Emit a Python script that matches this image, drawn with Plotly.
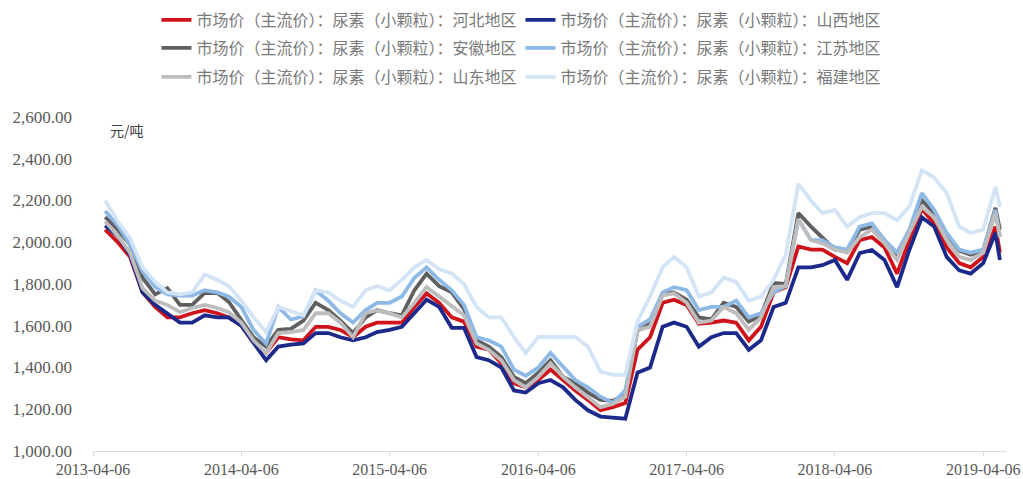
import plotly.graph_objects as go
import pandas as pd

dates = list(pd.date_range("2013-04-06", "2019-05-06", freq="MS").map(lambda d: d.replace(day=6)).strftime("%Y-%m-%d")) + ["2019-05-17"]

series_names = [
    "市场价（主流价）：尿素（小颗粒）：河北地区",
    "市场价（主流价）：尿素（小颗粒）：山西地区",
    "市场价（主流价）：尿素（小颗粒）：安徽地区",
    "市场价（主流价）：尿素（小颗粒）：江苏地区",
    "市场价（主流价）：尿素（小颗粒）：山东地区",
    "市场价（主流价）：尿素（小颗粒）：福建地区",
]

hebei = [2060, 2000, 1930, 1760, 1690, 1640, 1640, 1660, 1675, 1660, 1640, 1600, 1520, 1470, 1545, 1535, 1530, 1595, 1595, 1580,
         1545, 1595, 1615, 1615, 1615, 1690, 1755, 1710, 1640, 1620, 1500, 1485, 1420, 1325, 1305, 1340, 1390, 1340, 1290, 1245,
         1195, 1210, 1230, 1485, 1545, 1710, 1725, 1700, 1610, 1615, 1625, 1615, 1530, 1595, 1760, 1785, 1980, 1965, 1965, 1930,
         1900, 2010, 2025, 1975, 1850, 2010, 2160, 2090, 1975, 1900, 1880, 1930, 2075, 1950, 1915]
shanxi = [2080, 2030, 1940, 1760, 1700, 1660, 1615, 1615, 1650, 1640, 1640, 1600, 1515, 1435, 1500, 1510, 1515, 1565, 1565, 1545,
          1530, 1545, 1570, 1580, 1595, 1660, 1725, 1690, 1590, 1590, 1450, 1435, 1400, 1290, 1280, 1325, 1340, 1305, 1245, 1195,
          1165, 1160, 1155, 1375, 1400, 1595, 1615, 1595, 1500, 1545, 1565, 1565, 1485, 1530, 1690, 1710, 1880, 1880, 1890, 1915,
          1820, 1948, 1963, 1915, 1785, 1963, 2120, 2075, 1930, 1865, 1850, 1900, 2045, 1915, 1810]
anhui = [2120, 2060, 1990, 1830, 1750, 1780, 1700, 1700, 1757, 1757, 1715, 1630, 1545, 1500, 1580, 1585, 1625, 1710, 1675, 1625,
         1565, 1640, 1675, 1660, 1650, 1770, 1850, 1790, 1760, 1680, 1530, 1500, 1450, 1355, 1325, 1375, 1435, 1355, 1325, 1280,
         1245, 1240, 1270, 1575, 1610, 1755, 1760, 1725, 1640, 1630, 1710, 1690, 1620, 1650, 1805, 1800, 2140, 2075, 2025, 1965,
         1960, 2060, 2075, 2010, 1940, 2050, 2200, 2140, 2040, 1960, 1940, 1960, 2165, 2060, 2010]
jiangsu = [2150, 2080, 1990, 1860, 1785, 1750, 1745, 1745, 1770, 1760, 1740, 1690, 1580, 1515, 1690, 1630, 1645, 1770, 1720, 1660,
           1615, 1675, 1710, 1710, 1740, 1830, 1880, 1820, 1770, 1700, 1545, 1530, 1500, 1390, 1360, 1400, 1470, 1405, 1340, 1305,
           1260, 1230, 1290, 1595, 1630, 1760, 1785, 1770, 1675, 1690, 1690, 1720, 1640, 1660, 1760, 1790, 2110, 2010, 2010, 1975,
           1965, 2075, 2090, 2010, 1950, 2060, 2235, 2155, 2045, 1965, 1950, 1965, 2155, 2025, 1965]
shandong = [2100, 2030, 1950, 1780, 1720, 1700, 1665, 1685, 1700, 1685, 1665, 1615, 1530, 1470, 1565, 1570, 1580, 1660, 1660, 1615,
            1545, 1660, 1675, 1660, 1640, 1710, 1785, 1740, 1690, 1650, 1515, 1485, 1435, 1340, 1305, 1355, 1420, 1355, 1305, 1260,
            1210, 1225, 1260, 1580, 1595, 1745, 1755, 1710, 1615, 1625, 1690, 1660, 1580, 1640, 1785, 1790, 2110, 2010, 1995, 1965,
            1950, 2025, 2060, 1995, 1915, 2045, 2170, 2120, 2010, 1930, 1915, 1950, 2140, 2025, 1965]
fujian = [2200, 2100, 2020, 1880, 1810, 1760, 1750, 1760, 1845, 1820, 1790, 1720, 1640, 1570, 1690, 1670, 1650, 1770, 1760, 1720,
          1690, 1770, 1790, 1770, 1820, 1880, 1915, 1870, 1850, 1800, 1690, 1640, 1640, 1545, 1470, 1546, 1546, 1546, 1546, 1500,
          1380, 1365, 1365, 1620, 1740, 1880, 1930, 1880, 1740, 1760, 1830, 1810, 1720, 1740, 1820, 1940, 2280, 2200, 2140, 2155,
          2075, 2120, 2140, 2140, 2105, 2170, 2345, 2310, 2235, 2075, 2045, 2060, 2265, 2170, 2070]

colors = ["#D0121B", "#1B2A8A", "#5F5F5F", "#8DB9E6", "#BDBDBD", "#D3E4F6"]
values = [hebei, shanxi, anhui, jiangsu, shandong, fujian]
legend_ids = ["legend", "legend", "legend2", "legend2", "legend3", "legend3"]

y_ticks = [1000, 1200, 1400, 1600, 1800, 2000, 2200, 2400, 2600]
x_ticks = ["2013-04-06", "2014-04-06", "2015-04-06", "2016-04-06", "2017-04-06", "2018-04-06", "2019-04-06"]

SERIF = "Liberation Serif, Times New Roman, Noto Sans CJK SC, serif"
LEGFONT = dict(size=16, color="#7a7a7a", family="Liberation Serif, Noto Sans CJK SC, serif")

fig = go.Figure()
for name, vals, c, lg in zip(series_names, values, colors, legend_ids):
    fig.add_trace(go.Scatter(x=dates, y=vals, name=name, mode="lines",
                             line=dict(color=c, width=3.8), legend=lg))

PLOT_H = 334  # plot-area height in px


def leg(yc):
    # yc: row centre in page pixels (plot top is at page y=117)
    return dict(orientation="h", x=0.0695, xanchor="left", y=1 + (117 - yc) / PLOT_H, yanchor="middle",
                font=LEGFONT, entrywidth=319, itemwidth=30, bgcolor="rgba(0,0,0,0)")


fig.update_layout(
    width=1023, height=479,
    margin=dict(l=93, r=17, t=117, b=28, autoexpand=False),
    paper_bgcolor="white", plot_bgcolor="white",
    font=dict(family=SERIF, color="#595959"),
    legend=leg(20), legend2=leg(48), legend3=leg(77),
    xaxis=dict(type="date", range=["2013-04-06", "2019-06-01"], tickvals=x_ticks, ticktext=x_ticks,
               showgrid=False, showline=True, linecolor="#D9D9D9", linewidth=1,
               ticks="outside", ticklen=4, tickcolor="#D9D9D9", automargin=False,
               ticklabeloverflow="allow",
               tickfont=dict(size=16, color="#595959", family=SERIF), zeroline=False),
    yaxis=dict(range=[1000, 2600], tickvals=y_ticks, tickformat=",.2f", automargin=False,
               showgrid=False, showline=False, zeroline=False,
               tickfont=dict(size=17, color="#595959", family=SERIF), ticks="", ticklabelstandoff=20),
    annotations=[dict(text="元/吨", xref="paper", yref="paper", x=0.016, y=0.962,
                      xanchor="left", yanchor="middle", showarrow=False,
                      font=dict(size=14, color="#404040", family="Noto Sans CJK SC"))],
)

fig.write_html("out.html", config={"displayModeBar": False},
               post_script="document.body.style.margin='0';document.body.style.overflow='hidden';")
